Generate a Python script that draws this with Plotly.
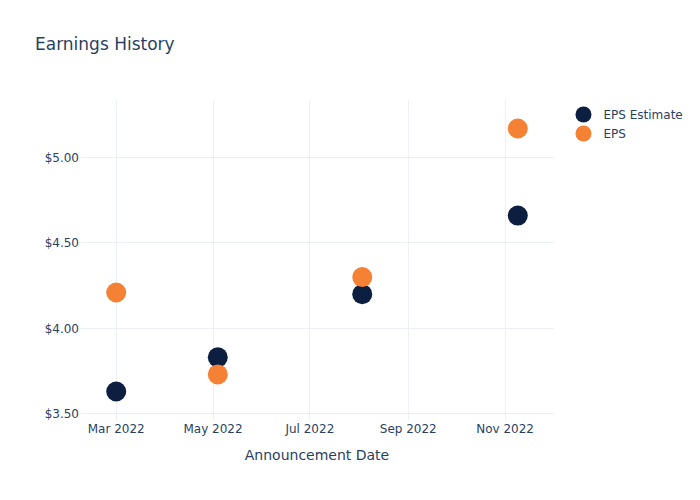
import plotly.graph_objects as go

dates = ["2022-03-01", "2022-05-04", "2022-08-03", "2022-11-09"]
eps_estimate = [3.63, 3.83, 4.20, 4.66]
eps_actual = [4.21, 3.73, 4.30, 5.17]

fig = go.Figure()
fig.add_trace(go.Scatter(x=dates, y=eps_estimate, mode="markers", name="EPS Estimate",
                         marker=dict(size=20, color="#0c1f40")))
fig.add_trace(go.Scatter(x=dates, y=eps_actual, mode="markers", name="EPS",
                         marker=dict(size=20, color="#f58134")))
fig.update_layout(
    template="plotly_white",
    font=dict(family="DejaVu Sans"),
    title=dict(text="Earnings History"),
    width=700, height=500,
    xaxis=dict(title="Announcement Date"),
    yaxis=dict(tickprefix="$", tickformat=".2f"),
)
fig.write_html("out.html")
